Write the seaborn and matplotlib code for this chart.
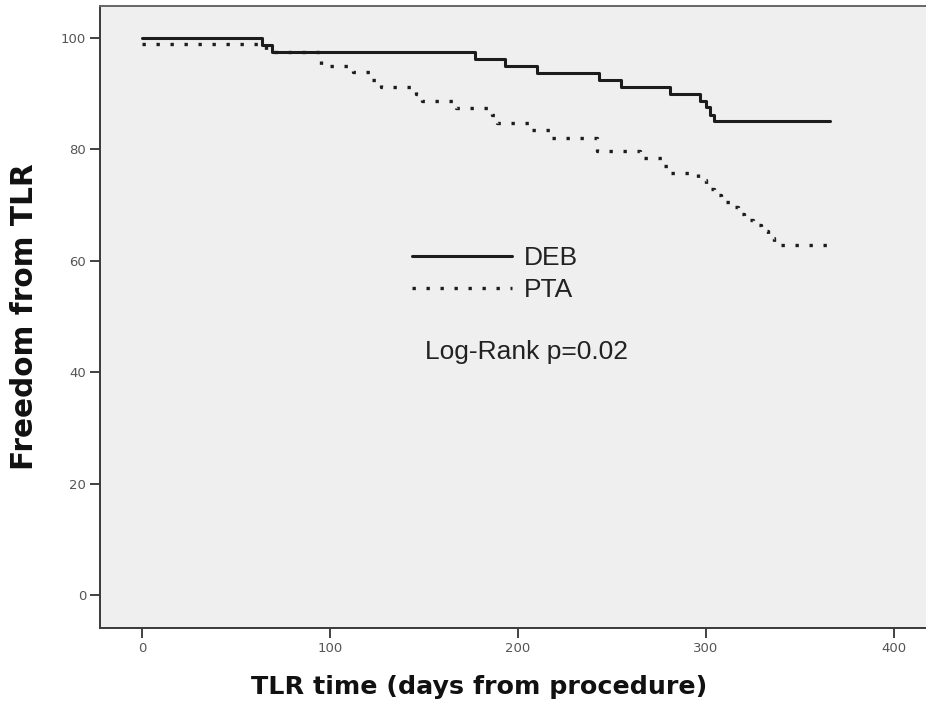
import matplotlib
matplotlib.use("Agg")
import matplotlib.pyplot as plt
import seaborn as sns
import pandas as pd

# ---- data (Kaplan-Meier step curves) ----
deb_days = [0, 64, 69, 177, 193, 210, 243, 255, 281, 297, 300, 302, 304, 366]
deb_free = [100, 98.7, 97.5, 96.2, 95.0, 93.7, 92.5, 91.2, 90.0, 88.7, 87.5, 86.2, 85.0, 85.0]

pta_days = [0, 66, 95, 112, 122, 127, 146, 149, 167, 186, 189, 207, 217, 242, 265,
            277, 280, 296, 300, 304, 308, 313, 317, 320, 325, 329, 333, 336, 366]
pta_free = [98.8, 97.5, 95.0, 93.8, 92.5, 91.2, 90.0, 88.7, 87.4, 86.1, 84.7, 83.4, 82.0,
            79.6, 78.4, 77.0, 75.7, 74.4, 72.9, 71.7, 70.5, 69.6, 68.3, 67.3, 66.4,
            65.4, 64.0, 62.8, 62.8]

group_labels = ["DEB", "PTA"]
x_ticks = [0, 100, 200, 300, 400]
y_ticks = [0, 20, 40, 60, 80, 100]
x_label = "TLR time (days from procedure)"
y_label = "Freedom from TLR"
note_text = "Log-Rank p=0.02"

deb_df = pd.DataFrame({"days": deb_days, "free": deb_free})
pta_df = pd.DataFrame({"days": pta_days, "free": pta_free})

sns.set_style("ticks")
plt.rcParams["font.family"] = ["DejaVu Sans"]

W, H = 926, 707
fig = plt.figure(figsize=(W / 100, H / 100), dpi=100, facecolor="white")
ax_l, ax_r, ax_t, ax_b = 100, 926, 6, 628
ax_w, ax_h = ax_r - ax_l, ax_b - ax_t
ax = fig.add_axes([ax_l / W, 1 - ax_b / H, ax_w / W, ax_h / H])
ax.set_facecolor("#efefef")

line_col = "#1c1c1c"
sns.lineplot(data=deb_df, x="days", y="free", drawstyle="steps-post", estimator=None,
             color=line_col, linewidth=2.2, label=group_labels[0], ax=ax)
sns.lineplot(data=pta_df, x="days", y="free", drawstyle="steps-post", estimator=None,
             color=line_col, linewidth=2.4, linestyle=(0, (1, 3.2)),
             label=group_labels[1], ax=ax)

ax.set_xlim(-22.3, 417)
ax.set_ylim(-5.9, 105.7)
ax.set_xticks(x_ticks)
ax.set_yticks(y_ticks)
ax.tick_params(axis="both", direction="out", length=7, width=1.3, color="#333333",
               labelsize=9.5, labelcolor="#555555", pad=3)

for side in ["left", "bottom", "top"]:
    ax.spines[side].set_color("#3a3a3a")
    ax.spines[side].set_linewidth(1.4)
ax.spines["right"].set_visible(False)
ax.spines["top"].set_color("#666666")

ax.set_xlabel(x_label, fontsize=18.3, fontweight="bold", color="#111111")
ax.xaxis.set_label_coords((479.5 - ax_l) / ax_w, (ax_b - 675) / ax_h)
ax.set_ylabel(y_label, fontsize=21.3, fontweight="bold", color="#111111")
ax.yaxis.set_label_coords((39 - ax_l) / ax_w, 0.5)

leg = ax.legend(loc="upper left",
                bbox_to_anchor=((412 - ax_l) / ax_w, (ax_b - 246) / ax_h),
                frameon=False, borderpad=0, borderaxespad=0, handlelength=3.8,
                handletextpad=0.45, labelspacing=0.3,
                prop={"family": "Liberation Sans", "size": 19})
for t in leg.get_texts():
    t.set_color("#222222")

ax.text((425 - ax_l) / ax_w, (ax_b - 352) / ax_h, note_text,
        transform=ax.transAxes, ha="left", va="center", fontsize=19,
        family="Liberation Sans", color="#222222")

fig.savefig("out.png", dpi=100, facecolor="white")
